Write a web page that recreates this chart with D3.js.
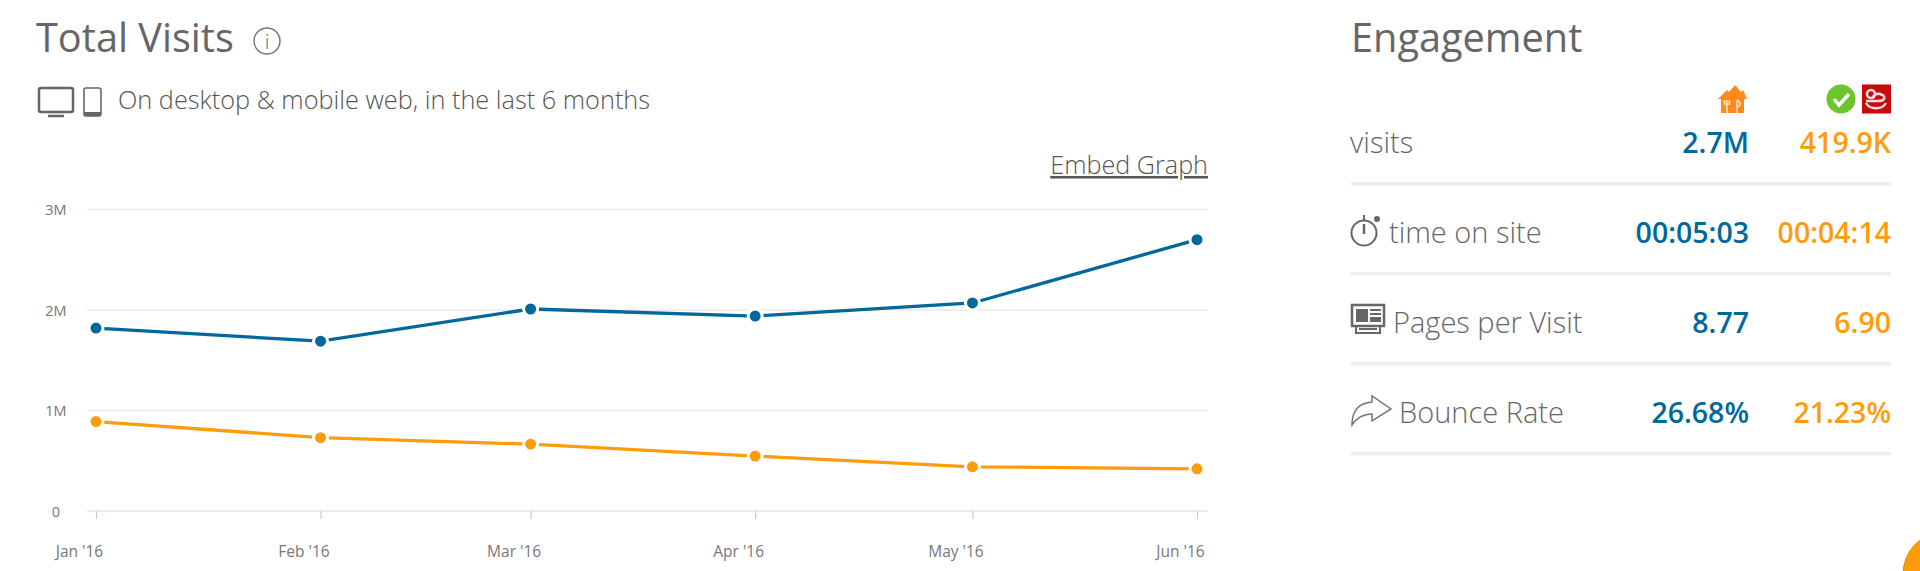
<!DOCTYPE html>
<html>
<head>
<meta charset="utf-8">
<script src="https://d3js.org/d3.v7.min.js"></script>
<style>
  html, body { margin: 0; background: #fff; overflow: hidden; }
  svg { display: block; }
  text { font-family: "Open Sans", sans-serif; }
</style>
</head>
<body>
<svg width="1920" height="571"></svg>
<script>
const months = ["2016-01-01", "2016-02-01", "2016-03-01", "2016-04-01", "2016-05-01", "2016-06-01"];
const blueVisits = [1820000, 1690000, 2010000, 1940000, 2070000, 2700000];
const orangeVisits = [890000, 730000, 665000, 547000, 440000, 419900];
const yTicks = [0, 1000000, 2000000, 3000000];
const yTickLabels = ["0", "1M", "2M", "3M"];

const rowLabels = ["visits", "time on site", "Pages per Visit", "Bounce Rate"];
const blueStats = ["2.7M", "00:05:03", "8.77", "26.68%"];
const orangeStats = ["419.9K", "00:04:14", "6.90", "21.23%"];

const BLUE = "#00689a";
const ORANGE = "#ff9c0d";
const GREY = "#666";

const svg = d3.select("svg");
const parseDay = d3.utcParse("%Y-%m-%d");
const dates = months.map(parseDay);

const x = d3.scaleUtc().domain([dates[0], dates[5]]).range([96, 1197]);
const y = d3.scaleLinear().domain([0, 3000000]).range([511, 209.5]);

// headings
svg.append("text").attr("x", 36).attr("y", 52).attr("font-size", 39.7).attr("fill", GREY).text("Total Visits");
svg.append("text").attr("x", 1351).attr("y", 52).attr("font-size", 39.7).attr("fill", GREY).text("Engagement");
svg.append("text").attr("x", 118).attr("y", 109).attr("font-size", 25.3).attr("font-weight", 300).attr("fill", "#555")
  .text("On desktop & mobile web, in the last 6 months");
svg.append("text").attr("x", 1208).attr("y", 174).attr("text-anchor", "end").attr("font-size", 25.2)
  .attr("font-weight", 300).attr("fill", "#555").attr("text-decoration", "underline").text("Embed Graph");

// info circle
const info = svg.append("g").attr("transform", "translate(267,41)");
info.append("circle").attr("r", 13).attr("fill", "none").attr("stroke", "#777").attr("stroke-width", 1.5);
info.append("text").attr("y", 8).attr("text-anchor", "middle").attr("font-size", 21).attr("font-weight", 300).attr("fill", "#666").text("i");

// monitor and phone
const devices = svg.append("g").attr("fill", "none").attr("stroke", "#666");
devices.append("rect").attr("x", 39).attr("y", 88).attr("width", 34).attr("height", 24).attr("rx", 2).attr("stroke-width", 2.5);
devices.append("line").attr("x1", 48).attr("x2", 64).attr("y1", 116).attr("y2", 116).attr("stroke-width", 2.5);
devices.append("rect").attr("x", 84).attr("y", 88).attr("width", 17).attr("height", 28).attr("rx", 2).attr("stroke-width", 1.6);
devices.append("line").attr("x1", 84).attr("x2", 101).attr("y1", 114).attr("y2", 114).attr("stroke-width", 4);

// axes
const gridGroup = svg.append("g");
gridGroup.selectAll("line")
  .data(yTicks.slice(1))
  .enter()
  .append("line")
  .attr("x1", 87)
  .attr("x2", 1208)
  .attr("y1", d => y(d))
  .attr("y2", d => y(d))
  .attr("stroke", "#eaeaea")
  .attr("stroke-width", 1.5);

const xAxis = d3.axisBottom(x)
  .tickValues(dates)
  .tickFormat(d3.utcFormat("%b '%y"))
  .tickSize(8)
  .tickPadding(27)
  .tickSizeOuter(0);

const xGroup = svg.append("g").attr("transform", `translate(0,${y(0)})`).call(xAxis);
xGroup.select(".domain").attr("d", "M87,0H1208").attr("stroke", "#e3e8ef").attr("stroke-width", 1.5);
xGroup.selectAll(".tick line").attr("stroke", "#bccfe0").attr("stroke-width", 1.2);
xGroup.selectAll(".tick text")
  .attr("dx", -17)
  .attr("font-size", 15.5)
  .attr("font-family", '"Open Sans", sans-serif')
  .attr("fill", "#777");

const yAxis = d3.axisLeft(y)
  .tickValues(yTicks)
  .tickFormat((d, i) => yTickLabels[i])
  .tickSize(0)
  .tickPadding(0);

const yGroup = svg.append("g").attr("transform", "translate(56,0)").call(yAxis);
yGroup.select(".domain").remove();
yGroup.selectAll(".tick text")
  .attr("text-anchor", "middle")
  .attr("dy", "0.35em")
  .attr("font-size", 14.5)
  .attr("font-family", '"Open Sans", sans-serif')
  .attr("fill", "#777");

// lines and dots
const lineGenerator = d3.line().x((d, i) => x(dates[i])).y(d => y(d));

[[blueVisits, BLUE], [orangeVisits, ORANGE]].forEach(([values, color]) => {
  svg.append("path")
    .attr("d", lineGenerator(values))
    .attr("fill", "none")
    .attr("stroke", color)
    .attr("stroke-width", 3.3);
  svg.append("g")
    .selectAll("circle")
    .data(values)
    .enter()
    .append("circle")
    .attr("cx", (d, i) => x(dates[i]))
    .attr("cy", d => y(d))
    .attr("r", 7)
    .attr("fill", color)
    .attr("stroke", "#fff")
    .attr("stroke-width", 3);
});

// engagement table
const rowBaselines = d3.scaleLinear().domain([0, 3]).range([152.7, 422.7]);
const labelOffsets = [-1, 38, 42, 48];

const rows = svg.append("g")
  .selectAll("g")
  .data(rowLabels)
  .enter()
  .append("g");

rows.append("text")
  .attr("x", (d, i) => 1351 + labelOffsets[i])
  .attr("y", (d, i) => rowBaselines(i))
  .attr("font-size", 29)
  .attr("font-weight", 300)
  .attr("fill", GREY)
  .text(d => d);

rows.append("text")
  .attr("x", 1749)
  .attr("y", (d, i) => rowBaselines(i))
  .attr("text-anchor", "end")
  .attr("font-size", 28.5)
  .attr("font-weight", 600)
  .attr("fill", BLUE)
  .text((d, i) => blueStats[i]);

rows.append("text")
  .attr("x", 1891)
  .attr("y", (d, i) => rowBaselines(i))
  .attr("text-anchor", "end")
  .attr("font-size", 28.5)
  .attr("font-weight", 600)
  .attr("fill", ORANGE)
  .text((d, i) => orangeStats[i]);

rows.append("line")
  .attr("x1", 1351)
  .attr("x2", 1891)
  .attr("y1", (d, i) => rowBaselines(i) + 31)
  .attr("y2", (d, i) => rowBaselines(i) + 31)
  .attr("stroke", "#eee")
  .attr("stroke-width", 3.5);

// row icons
const watch = svg.append("g").attr("fill", "none").attr("stroke", "#666").attr("stroke-width", 2);
watch.append("circle").attr("cx", 1364).attr("cy", 233).attr("r", 12.5);
watch.append("line").attr("x1", 1364).attr("x2", 1364).attr("y1", 215).attr("y2", 220);
watch.append("line").attr("x1", 1364).attr("x2", 1364).attr("y1", 224).attr("y2", 234).attr("stroke-width", 2.5);
svg.append("circle").attr("cx", 1377).attr("cy", 219).attr("r", 3).attr("fill", "#666");

const paper = svg.append("g");
paper.append("rect").attr("x", 1352).attr("y", 305).attr("width", 32).attr("height", 21).attr("fill", "none").attr("stroke", "#666").attr("stroke-width", 2.5);
paper.append("rect").attr("x", 1356).attr("y", 309).attr("width", 12).attr("height", 13).attr("fill", "#666");
paper.append("rect").attr("x", 1370).attr("y", 309).attr("width", 11).attr("height", 2).attr("fill", "#666");
paper.append("rect").attr("x", 1370).attr("y", 313).attr("width", 11).attr("height", 2).attr("fill", "#666");
paper.append("rect").attr("x", 1370).attr("y", 317).attr("width", 11).attr("height", 5).attr("fill", "#666");
paper.append("path").attr("d", "M1356,327V333H1380V327M1359,329H1377").attr("fill", "none").attr("stroke", "#666").attr("stroke-width", 2);

svg.append("path")
  .attr("d", "M1352,425C1352,412 1358,403 1372,402V396L1391,409L1372,421V414C1364,414 1357,417 1352,425Z")
  .attr("fill", "none")
  .attr("stroke", "#777")
  .attr("stroke-width", 1.5);

// column logos
const house = svg.append("g");
house.append("path")
  .attr("d", "M1718,99L1727,90L1729,92L1735,85L1741,92L1743,90L1747,99H1744V113H1721V99Z")
  .attr("fill", "#ff8a1c");
house.append("path")
  .attr("d", "M1727,100V106M1724.5,100V104H1729.5V100M1727,106V113M1737,100V113M1737,100C1741,102 1741,106 1737,107")
  .attr("fill", "none")
  .attr("stroke", "#ffe2bd")
  .attr("stroke-width", 1.6);

svg.append("circle").attr("cx", 1841).attr("cy", 99).attr("r", 14.5).attr("fill", "#6cc52d");
svg.append("path").attr("d", "M1834,99L1839,105L1849,94").attr("fill", "none").attr("stroke", "#fff").attr("stroke-width", 3.5);

svg.append("rect").attr("x", 1862).attr("y", 84.5).attr("width", 29).attr("height", 29).attr("fill", "#c70b0b");
const swirl = svg.append("g").attr("fill", "none").attr("stroke", "#fbdcdc").attr("stroke-width", 2.5);
swirl.append("circle").attr("cx", 1871).attr("cy", 94).attr("r", 4);
swirl.append("path").attr("d", "M1866,101H1878C1885,101 1887,96 1880,94C1876,93 1874,95 1873,97M1866,103C1870,110 1882,110 1886,103");

// corner button
svg.append("circle").attr("cx", 1946.6).attr("cy", 574.7).attr("r", 43.7).attr("fill", "#ff9c0d").attr("stroke", "#e8890a").attr("stroke-width", 1);
</script>
</body>
</html>
